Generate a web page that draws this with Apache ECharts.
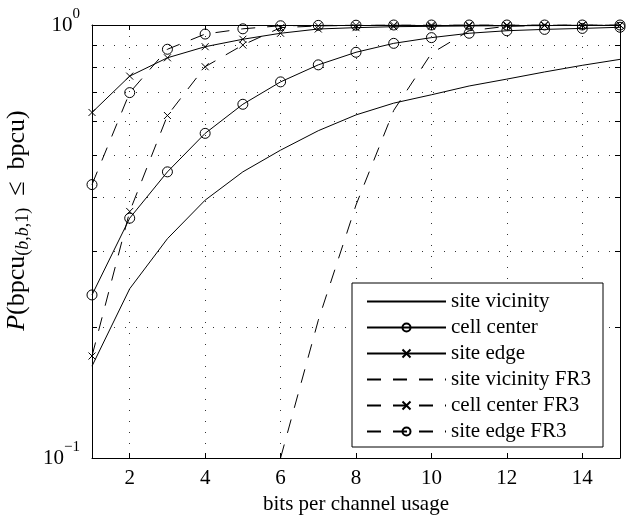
<!DOCTYPE html>
<html>
<head>
<meta charset="utf-8">
<script src="https://cdn.jsdelivr.net/npm/echarts@6/dist/echarts.min.js"></script>
<style>
  html, body { margin: 0; padding: 0; background: #fff; }
  #chart { width: 639px; height: 519px; }
</style>
</head>
<body>
<div id="chart"></div>
<script>
// bits per channel usage
const bpcu = [1, 2, 3, 4, 5, 6, 7, 8, 9, 10, 11, 12, 13, 14, 15];

// CDF values
const siteVicinity = [0.163, 0.246, 0.321, 0.394, 0.458, 0.514, 0.570, 0.620, 0.660, 0.690, 0.723, 0.750, 0.779, 0.807, 0.833];
const cellCenter = [0.238, 0.358, 0.458, 0.562, 0.656, 0.739, 0.809, 0.865, 0.907, 0.935, 0.957, 0.970, 0.977, 0.982, 0.988];
const siteEdge = [0.628, 0.762, 0.840, 0.891, 0.927, 0.957, 0.979, 0.986, 0.991, 0.993, 0.995, 0.996, 0.997, 0.998, 0.999];
const siteVicinityFR3 = [null, null, null, null, null, 0.100, 0.208, 0.384, 0.635, 0.860, 0.970, 0.993, 0.998, 0.999, 1.0];
const cellCenterFR3 = [0.172, 0.371, 0.618, 0.801, 0.899, 0.986, 0.995, 0.998, 0.999, 0.999, 1.0, 1.0, 1.0, 1.0, 1.0];
const siteEdgeFR3 = [0.428, 0.698, 0.879, 0.953, 0.980, 0.996, 0.998, 0.999, 1.0, 1.0, 1.0, 1.0, 1.0, 1.0, 1.0];

const xTicks = [2, 4, 6, 8, 10, 12, 14];
const yTicks = [0.1, 0.2, 0.3, 0.4, 0.5, 0.6, 0.7, 0.8, 0.9, 1];
const yLabels = [0.1, 1];

const FONT = 'Liberation Serif';
const DASH = [14, 12];
const CROSS = 'path://M0,0L10,10M10,0L0,10';

const pairs = (vals) => bpcu.map((x, i) => [x, vals[i] == null ? '-' : vals[i]]);

const makeSeries = (name, vals, dashed, symbol) => ({
  name,
  type: 'line',
  data: pairs(vals),
  symbol: symbol || 'none',
  symbolSize: symbol === CROSS ? 7 : 10,
  showAllSymbol: true,
  lineStyle: { color: '#000', width: 1, type: dashed ? DASH : 'solid' },
  // no-marker series keep an invisible symbol so the legend shows a bare line
  itemStyle: { color: 'transparent', borderColor: symbol ? '#000' : 'transparent', borderWidth: 1 },
  emphasis: { disabled: true }
});

const chart = echarts.init(document.getElementById('chart'));

const gridLine = { show: true, lineStyle: { color: '#333', width: 1, type: [1, 10] } };

chart.setOption({
  animation: false,
  backgroundColor: '#fff',
  textStyle: { fontFamily: FONT },
  grid: { left: 92, right: 19, top: 25, bottom: 61, outerBoundsMode: 'none', containLabel: false },
  legend: {
    orient: 'vertical',
    left: 352,
    top: 283,
    itemWidth: 79,
    itemHeight: 10,
    itemGap: 5,
    padding: [8, 12, 5, 14],
    backgroundColor: '#fff',
    borderColor: '#000',
    borderWidth: 1,
    borderRadius: 0,
    textStyle: { fontFamily: FONT, fontSize: 21, lineHeight: 21, color: '#000' },
    data: ['site vicinity', 'cell center', 'site edge', 'site vicinity FR3', 'cell center FR3', 'site edge FR3']
  },
  xAxis: [
    {
      type: 'value',
      min: 1,
      max: 15,
      name: 'bits per channel usage',
      nameLocation: 'middle',
      nameGap: 36,
      nameTextStyle: { fontFamily: FONT, fontSize: 21, color: '#000' },
      axisLine: { onZero: false, lineStyle: { color: '#000', width: 1 } },
      axisTick: { inside: true, length: 5, customValues: xTicks, lineStyle: { color: '#000' } },
      axisLabel: { customValues: xTicks, margin: 10, fontFamily: FONT, fontSize: 21, color: '#000' },
      splitLine: gridLine
    },
    {
      type: 'value',
      position: 'top',
      min: 1,
      max: 15,
      axisLine: { onZero: false, lineStyle: { color: '#000', width: 1 } },
      axisTick: { inside: true, length: 5, customValues: xTicks, lineStyle: { color: '#000' } },
      axisLabel: { show: false },
      splitLine: { show: false }
    }
  ],
  yAxis: [
    {
      type: 'log',
      logBase: 10,
      min: 0.1,
      max: 1,
      name: '{i|P}{n|(bpcu}{sub|(}{si|b}{sub|,}{si|b}{sub|,1)}{le|≤}{n|bpcu)}',
      nameLocation: 'middle',
      nameRotate: 90,
      nameGap: 48,
      nameTextStyle: {
        color: '#000',
        padding: [0, 0, 0, 42],
        rich: {
          i: { fontFamily: FONT, fontStyle: 'italic', fontSize: 26, color: '#000' },
          n: { fontFamily: FONT, fontSize: 26, color: '#000' },
          le: { fontFamily: FONT, fontSize: 26, color: '#000', padding: [0, 12, 0, 12] },
          sub: { fontFamily: FONT, fontSize: 18, color: '#000', padding: [12, 0, 0, 0] },
          si: { fontFamily: FONT, fontStyle: 'italic', fontSize: 18, color: '#000', padding: [12, 0, 0, 0] }
        }
      },
      axisLine: { onZero: false, lineStyle: { color: '#000', width: 1 } },
      axisTick: { inside: true, length: 5, customValues: yTicks, lineStyle: { color: '#000' } },
      axisLabel: {
        customValues: yLabels,
        margin: 12,
        formatter: (v) => (v >= 1 ? '{b|10}{s|0}' : '{b|10}{s|−1}'),
        rich: {
          b: { fontFamily: FONT, fontSize: 21, lineHeight: 36, color: '#000' },
          s: { fontFamily: FONT, fontSize: 15, lineHeight: 15, verticalAlign: 'top', color: '#000' }
        }
      },
      splitLine: gridLine
    },
    {
      type: 'log',
      logBase: 10,
      min: 0.1,
      max: 1,
      position: 'right',
      axisLine: { onZero: false, lineStyle: { color: '#000', width: 1 } },
      axisTick: { inside: true, length: 5, customValues: yTicks, lineStyle: { color: '#000' } },
      axisLabel: { show: false },
      splitLine: { show: false }
    }
  ],
  series: [
    makeSeries('site vicinity', siteVicinity, false, null),
    makeSeries('cell center', cellCenter, false, 'circle'),
    makeSeries('site edge', siteEdge, false, CROSS),
    makeSeries('site vicinity FR3', siteVicinityFR3, true, null),
    makeSeries('cell center FR3', cellCenterFR3, true, CROSS),
    makeSeries('site edge FR3', siteEdgeFR3, true, 'circle')
  ]
});
</script>
</body>
</html>
